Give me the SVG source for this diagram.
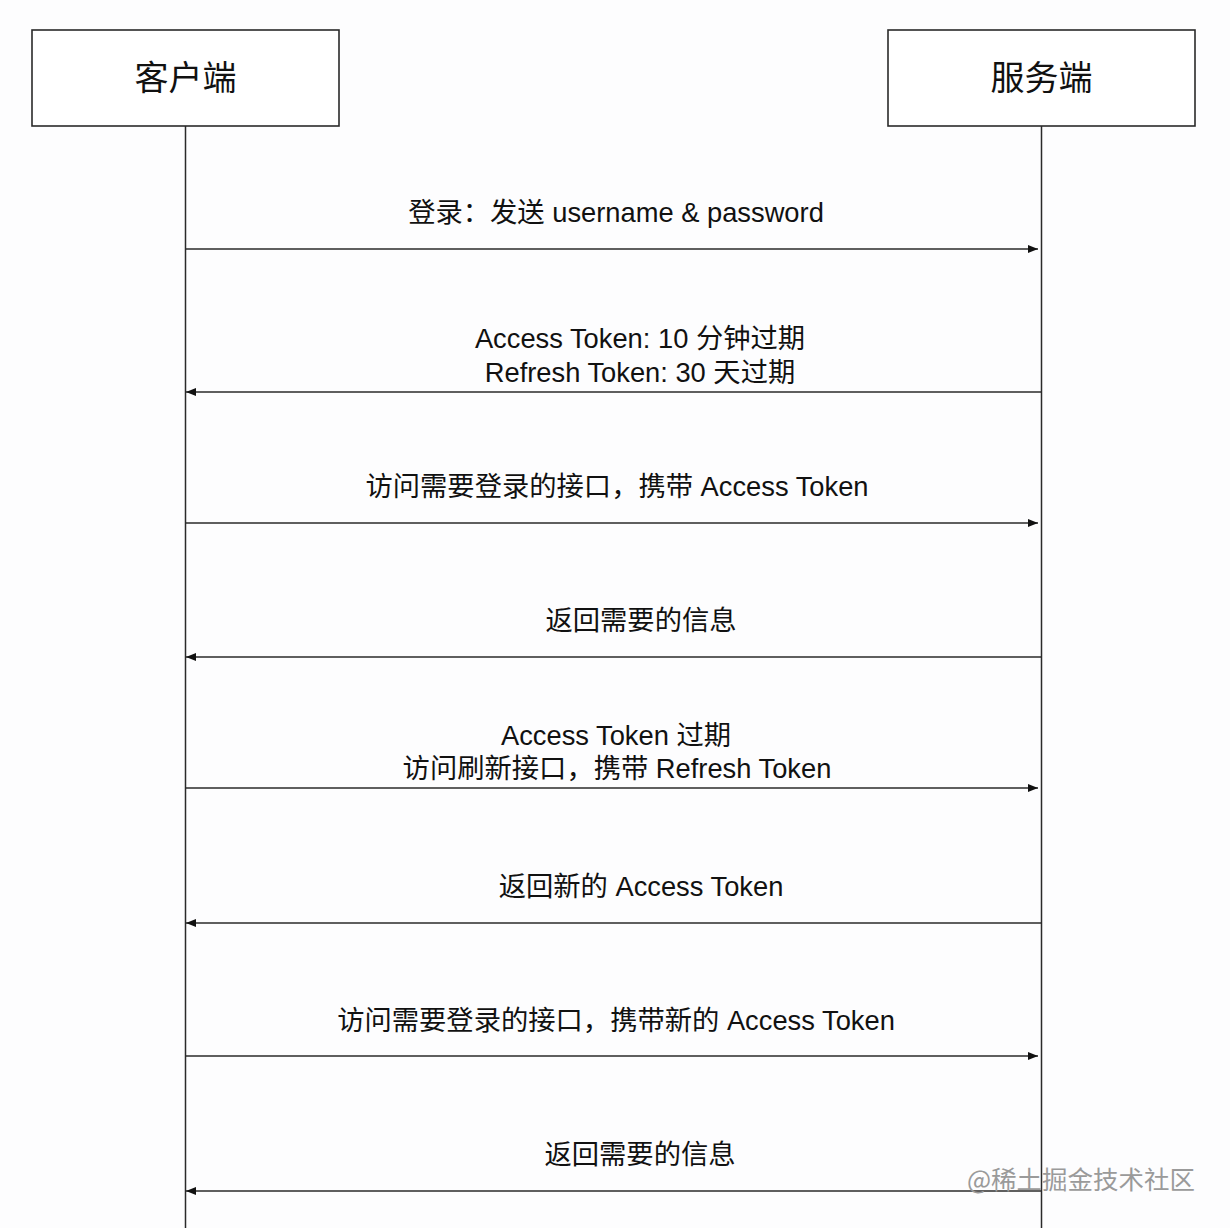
<svg xmlns="http://www.w3.org/2000/svg" width="1230" height="1228" viewBox="0 0 1230 1228">
<defs>
<style>
.box{fill:#fff;stroke:#2a2a2a;stroke-width:1.6}
.life{stroke:#2a2a2a;stroke-width:1.5;fill:none}
.msg{stroke:#2a2a2a;stroke-width:1.5;fill:none}
.t{font-family:"Liberation Sans","Noto Sans CJK SC",sans-serif;font-size:27.3px;fill:#111;text-anchor:middle}
.h{font-family:"Noto Sans CJK SC",sans-serif;font-size:34px;fill:#111;text-anchor:middle}
.wm{font-family:"Noto Sans CJK SC",sans-serif;font-size:25.5px;fill:#9a9a9a;text-anchor:end}
</style>
<marker id="ah" viewBox="0 0 10 8" refX="10" refY="4" markerWidth="10" markerHeight="8" markerUnits="userSpaceOnUse" orient="auto">
<path d="M0,0 L10,4 L0,8 Z" fill="#111"/>
</marker>
</defs>
<rect width="1230" height="1228" fill="#fdfdfe"/>
<g id="client">
<rect class="box" x="32" y="30" width="307" height="96"/>
<text class="h" x="185.5" y="90">客户端</text>
<line class="life" x1="185.5" y1="126" x2="185.5" y2="1228"/>
</g>
<g id="server">
<rect class="box" x="888" y="30" width="307" height="96"/>
<text class="h" x="1041.5" y="90">服务端</text>
<line class="life" x1="1041.5" y1="126" x2="1041.5" y2="1228"/>
</g>
<g id="connectors">
<line class="msg" x1="185.5" y1="249" x2="1038" y2="249" marker-end="url(#ah)"/>
<line class="msg" x1="1041.5" y1="392" x2="186" y2="392" marker-end="url(#ah)"/>
<line class="msg" x1="185.5" y1="523" x2="1038" y2="523" marker-end="url(#ah)"/>
<line class="msg" x1="1041.5" y1="657" x2="186" y2="657" marker-end="url(#ah)"/>
<line class="msg" x1="185.5" y1="788" x2="1038" y2="788" marker-end="url(#ah)"/>
<line class="msg" x1="1041.5" y1="923" x2="186" y2="923" marker-end="url(#ah)"/>
<line class="msg" x1="185.5" y1="1056" x2="1038" y2="1056" marker-end="url(#ah)"/>
<line class="msg" x1="1041.5" y1="1191" x2="186" y2="1191" marker-end="url(#ah)"/>
</g>
<g id="labels">
<text class="t" x="616" y="222">登录：发送 username &amp; password</text>
<text class="t" x="640" y="348">Access Token: 10 分钟过期</text>
<text class="t" x="640" y="382">Refresh Token: 30 天过期</text>
<text class="t" x="617" y="496">访问需要登录的接口，携带 Access Token</text>
<text class="t" x="641" y="630">返回需要的信息</text>
<text class="t" x="616" y="745">Access Token 过期</text>
<text class="t" x="617" y="778">访问刷新接口，携带 Refresh Token</text>
<text class="t" x="641" y="896">返回新的 Access Token</text>
<text class="t" x="616" y="1030">访问需要登录的接口，携带新的 Access Token</text>
<text class="t" x="640" y="1164">返回需要的信息</text>
</g>
<text class="wm" x="1195" y="1189">@稀土掘金技术社区</text>
</svg>
